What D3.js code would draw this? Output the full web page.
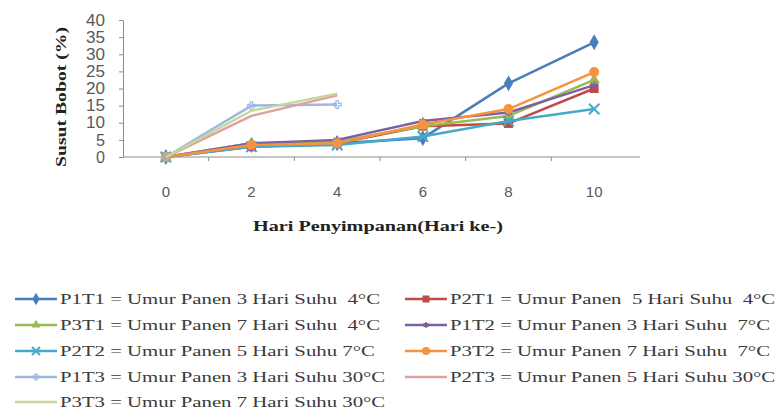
<!DOCTYPE html>
<html>
<head>
<meta charset="utf-8">
<script src="https://cdn.jsdelivr.net/npm/d3@7/dist/d3.min.js"></script>
<style>
  html, body { margin: 0; padding: 0; background: #fff; }
  svg { display: block; }
</style>
</head>
<body>
<svg id="chart" width="777" height="418"></svg>
<script>
// Storage days (x categories) and y ticks
const days = ["0", "2", "4", "6", "8", "10"];
const yTicks = [0, 5, 10, 15, 20, 25, 30, 35, 40];

// Weight loss (%) per treatment
const p1t1 = [0, 3.5, 4.0, 5.5, 21.5, 33.5];
const p2t1 = [0, 3.0, 4.0, 9.0, 9.8, 20.0];
const p3t1 = [0, 4.0, 4.5, 9.0, 12.0, 22.5];
const p1t2 = [0, 4.0, 5.0, 10.5, 13.0, 21.0];
const p2t2 = [0, 3.0, 3.5, 6.0, 10.5, 14.0];
const p3t2 = [0, 3.5, 4.0, 9.5, 14.0, 24.8];
const p1t3 = [0, 15.0, 15.3];
const p2t3 = [0, 12.0, 18.0];
const p3t3 = [0, 13.5, 18.5];

const seriesNames = [
  "P1T1 = Umur Panen 3 Hari Suhu  4°C",
  "P2T1 = Umur Panen  5 Hari Suhu  4°C",
  "P3T1 = Umur Panen 7 Hari Suhu  4°C",
  "P1T2 = Umur Panen 3 Hari Suhu  7°C",
  "P2T2 = Umur Panen 5 Hari Suhu 7°C",
  "P3T2 = Umur Panen 7 Hari Suhu  7°C",
  "P1T3 = Umur Panen 3 Hari Suhu 30°C",
  "P2T3 = Umur Panen 5 Hari Suhu 30°C",
  "P3T3 = Umur Panen 7 Hari Suhu 30°C"
];
const seriesValues = [p1t1, p2t1, p3t1, p1t2, p2t2, p3t2, p1t3, p2t3, p3t3];
const seriesColors = ["#4a7ebb", "#be4b48", "#98b954", "#7d60a0", "#46aac5", "#f69240", "#9db8e0", "#e0a0a0", "#c4d89c"];
const seriesMarkers = ["diamond", "square", "triangle", "star", "x", "circle", "plus", "none", "none"];

const series = seriesNames.map((name, i) => ({
  name, values: seriesValues[i], color: seriesColors[i], marker: seriesMarkers[i]
}));

const SERIF = "Liberation Serif, DejaVu Serif, serif";
const SANS = "Liberation Sans, Arial, sans-serif";

const svg = d3.select("#chart");
const plot = { left: 123, right: 637, top: 20, bottom: 157 };

const x = d3.scaleBand().domain(days).range([plot.left, plot.right]).padding(0);
const cx = d => x(d) + x.bandwidth() / 2;
const y = d3.scaleLinear().domain([0, 40]).range([plot.bottom, plot.top]);

const axisColor = "#8c8c8c";
const labelColor = "#595959";

// Y axis
const yAxis = svg.append("g")
  .attr("transform", `translate(${plot.left},0)`)
  .call(d3.axisLeft(y).tickValues(yTicks).tickSize(4).tickPadding(14));
yAxis.attr("font-family", SANS).attr("font-size", 16);
yAxis.select(".domain").attr("stroke", axisColor);
yAxis.selectAll(".tick line").attr("stroke", axisColor);
yAxis.selectAll(".tick text")
  .attr("fill", labelColor)
  .attr("textLength", d => d < 10 ? 9 : 19)
  .attr("lengthAdjust", "spacingAndGlyphs");

// X axis: ticks between categories
const xAxisG = svg.append("g").attr("transform", `translate(0,${plot.bottom})`);
xAxisG.append("line")
  .attr("x1", plot.left).attr("x2", plot.right + 3)
  .attr("stroke", axisColor);
const boundaries = days.slice(1).map(d => x(d));
xAxisG.selectAll(".btick").data(boundaries).join("line")
  .attr("x1", d => d).attr("x2", d => d)
  .attr("y1", 0).attr("y2", 4)
  .attr("stroke", axisColor);
xAxisG.selectAll(".xlab").data(days).join("text")
  .style("font-family", SANS)
  .attr("x", d => cx(d)).attr("y", 40)
  .attr("text-anchor", "middle")
  .attr("fill", labelColor)
  .attr("font-size", 15)
  .text(d => d);

// Axis titles
svg.append("text")
  .style("font-family", SERIF)
  .attr("transform", "translate(66,97) rotate(-90)")
  .attr("text-anchor", "middle")
  .attr("font-weight", "bold")
  .attr("font-size", 15)
  .attr("fill", "#222")
  .attr("textLength", 140)
  .attr("lengthAdjust", "spacingAndGlyphs")
  .text("Susut Bobot (%)");

svg.append("text")
  .style("font-family", SERIF)
  .attr("x", 378).attr("y", 231)
  .attr("text-anchor", "middle")
  .attr("font-weight", "bold")
  .attr("font-size", 15)
  .attr("fill", "#222")
  .attr("textLength", 250)
  .attr("lengthAdjust", "spacingAndGlyphs")
  .text("Hari Penyimpanan(Hari ke-)");

// Marker drawing
function drawMarker(g, type, color, size) {
  const s = size;
  if (type === "diamond") {
    g.append("path").attr("d", d3.symbol(d3.symbolDiamond, s * s * 0.9)()).attr("fill", color);
  } else if (type === "square") {
    g.append("rect").attr("x", -s / 2).attr("y", -s / 2).attr("width", s).attr("height", s).attr("fill", color);
  } else if (type === "triangle") {
    g.append("path").attr("d", d3.symbol(d3.symbolTriangle, s * s * 0.7)()).attr("fill", color);
  } else if (type === "circle") {
    g.append("circle").attr("r", s / 2 + 0.5).attr("fill", color);
  } else if (type === "x") {
    g.append("path").attr("d", d3.symbol(d3.symbolX, s * s * 0.9)())
      .attr("fill", "none").attr("stroke", color).attr("stroke-width", 2);
  } else if (type === "star") {
    g.append("path").attr("d", d3.symbol(d3.symbolAsterisk, s * s * 0.5)())
      .attr("fill", "none").attr("stroke", color).attr("stroke-width", 1.5);
  } else if (type === "plus") {
    g.append("path").attr("d", d3.symbol(d3.symbolCross, s * s * 0.4)())
      .attr("fill", "none").attr("stroke", color).attr("stroke-width", 1.2);
  }
}

// Series lines and markers
const line = d3.line().x((d, i) => cx(days[i])).y(d => y(d));
const plotG = svg.append("g");
series.forEach(s => {
  plotG.append("path")
    .attr("d", line(s.values))
    .attr("fill", "none")
    .attr("stroke", s.color)
    .attr("stroke-width", 2.5)
    .attr("stroke-linejoin", "round");
  s.values.forEach((v, i) => {
    const mg = plotG.append("g").attr("transform", `translate(${cx(days[i])},${y(v)})`);
    drawMarker(mg, s.marker, s.color, 9);
  });
});

// Legend: two columns
const legendRowY = [299, 325, 351, 377, 402];
const legendColX = [15, 405];
const legend = svg.append("g");
let legendScale = null;
series.forEach((s, i) => {
  const col = i % 2, row = Math.floor(i / 2);
  const lx = legendColX[col], ly = legendRowY[row];
  const g = legend.append("g").attr("transform", `translate(${lx},${ly})`);
  g.append("line").attr("x1", 0).attr("x2", 42).attr("y1", 0).attr("y2", 0)
    .attr("stroke", s.color).attr("stroke-width", 2.5);
  const mg = g.append("g").attr("transform", "translate(21,0)");
  drawMarker(mg, s.marker, s.color, 7);
  const t = g.append("text")
    .style("font-family", SERIF)
    .attr("x", 45).attr("y", 5)
    .attr("font-size", 15)
    .attr("fill", "#3a3a3a")
    .style("white-space", "pre")
    .text(s.name);
  const w = t.node().getComputedTextLength();
  if (legendScale === null) legendScale = 320 / w;
  t.attr("textLength", w * legendScale).attr("lengthAdjust", "spacingAndGlyphs");
});
</script>
</body>
</html>
